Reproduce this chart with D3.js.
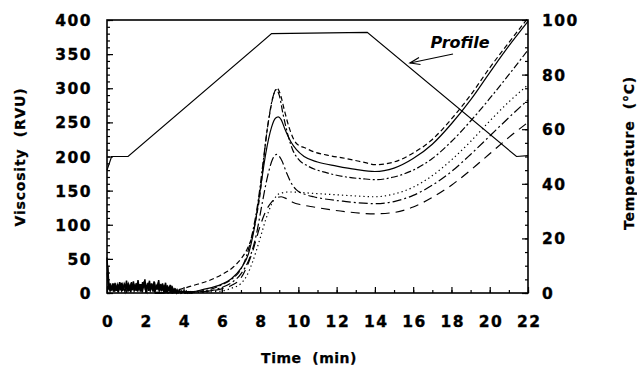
<!DOCTYPE html>
<html><head><meta charset="utf-8">
<script src="https://cdn.jsdelivr.net/npm/d3@7"></script>
<style>
body{margin:0;background:#fff;}
svg{display:block;}
text{font-family:"DejaVu Sans",sans-serif;font-weight:bold;fill:#000;}
</style></head>
<body>
<svg id="c" width="637" height="375"></svg>
<script>
// ---------- data ----------
const leftTicks = [0,50,100,150,200,250,300,350,400];
const rightTicks = [0,20,40,60,80,100];
const timeTicks = [0,2,4,6,8,10,12,14,16,18,20,22];

const profileTime = [0,0.24,1.1,8.6,13.6,21.4,22];
const profileTemp = [45,50,50,95,95.5,50,50.3];

const shortDashT = [2.5,3.6,4.5,5.4,6.0,6.6,7.0,7.3,7.6,7.8,8.0,8.15,8.35,8.5,8.7,8.88,9.05,9.25,9.5,9.9,10.4,10.8,11.5,12.5,13.5,14,15,16,17,18,19,20,21,22];
const shortDashV = [1,4,11,19,27,38,50,63,85,111,145,185,235,262,290,300,292,270,244,219,212,207,202,197,191,188,192,205,225,255,290,330,367,403];

const solidT = [2.5,4.5,5,6,6.5,7,7.4,7.7,8.0,8.3,8.6,8.8,8.95,9.1,9.3,9.6,9.9,10.3,11,12,13,14,15,16,17,18,19,20,21,22];
const solidV = [0,2,5,13,21,36,58,95,150,205,243,256,258,254,240,222,210,200,192,186,181,178,183,197,218,248,283,323,362,398];

const dashDotT = [2.5,5,6,6.5,7,7.3,7.6,7.9,8.15,8.4,8.65,8.85,9.0,9.2,9.45,9.7,10,10.5,11.5,12.5,13.5,14,15,16,17,18,19,20,21,22];
const dashDotV = [0,3,12,20,35,55,88,135,190,245,285,298,290,262,232,210,196,186,176,170,167,166,170,180,197,222,252,285,320,356];

const longDashDotT = [2.5,5,6,6.5,7,7.5,7.8,8.1,8.4,8.65,8.86,9.1,9.4,9.65,9.9,10.4,10.8,12.5,14,15,16,17,18,19,20,21,22];
const longDashDotV = [0,2,8,15,28,55,85,130,172,196,203,196,175,160,151,144,141,134,131,134,143,158,178,203,230,257,283];

const dottedT = [2.5,5,6,6.5,7,7.3,7.6,8,8.3,8.6,8.85,9.04,9.5,10.8,12.5,14,15,16,17,18,19,20,21,22];
const dottedV = [0,1,3,7,14,25,45,80,108,130,142,146,148,146,143,141,145,155,172,195,222,252,280,305];

const longDashT = [2.5,5,6,6.5,7,7.3,7.6,8,8.3,8.6,8.85,9.1,9.4,9.7,10.2,10.8,12.5,14,15,16,17,18,19,20,21,22];
const longDashV = [0,2,6,11,22,38,60,98,120,133,139,141,138,133,129,126,119,116,118,126,140,158,180,204,228,250];

// start-up noise (hand read, RVU), sampled every 0.06 min
const noiseAV = [52,20,8,14,4,11,6,15,3,12,7,16,5,10,4,13,8,18,6,11,3,14,9,17,5,12,4,19,7,13,3,16,8,20,5,12,9,18,4,14,6,17,3,11,8,19,5,13,4,10,7,15,3,9,5,12,2,8,4,6,2,5,1,4,2,3,1,2,1,3,0,2,1,2,0];
const noiseBV = [30,5,12,3,9,14,2,10,6,13,4,9,15,3,8,12,5,14,2,10,7,16,4,9,12,3,15,6,10,2,13,7,17,4,9,11,3,14,6,12,2,16,5,8,13,4,10,3,14,6,9,2,11,4,7,3,8,2,5,3,1,3,1,2,0,2,1,1,0,2,0,1,0,1,0];
const noiseCV = [40,9,3,10,7,2,12,5,9,1,11,6,3,12,7,2,10,4,13,8,1,9,12,3,7,14,2,10,5,11,1,9,13,6,2,15,7,3,10,5,12,1,8,6,11,2,9,4,7,1,12,5,2,6,3,8,1,4,2,5,0,3,1,2,0,1,2,0,1,0,1,0,1,0,0];

// ---------- layout ----------
const svg = d3.select("#c");
const L = 107, R = 528, T = 20, B = 293;
const x = d3.scaleLinear().domain([0,22]).range([L,R]);
const y = d3.scaleLinear().domain([0,400]).range([B,T]);
const yT = d3.scaleLinear().domain([0,100]).range([B,T]);

const line = d3.line().x(d=>x(d[0])).y(d=>y(d[1])).curve(d3.curveMonotoneX);
const lineT = d3.line().x(d=>x(d[0])).y(d=>yT(d[1]));

const series = [
  {t:longDashT, v:longDashV, dash:"9,6"},
  {t:dottedT, v:dottedV, dash:"1.3,3"},
  {t:longDashDotT, v:longDashDotV, dash:"9,3,2,3"},
  {t:dashDotT, v:dashDotV, dash:"7,2.5,2,2.5"},
  {t:solidT, v:solidV, dash:null},
  {t:shortDashT, v:shortDashV, dash:"5,3"}
];

const g = svg.append("g");
// noise
[[noiseAV,0],[noiseBV,0.02],[noiseCV,0.04]].forEach(([vals,off])=>{
  const pts = vals.map((v,i)=>[off + i*0.06, v]);
  g.append("path").attr("d", d3.line().x(d=>x(d[0])).y(d=>y(d[1]))(pts))
    .attr("fill","none").attr("stroke","#000").attr("stroke-width",1.5);
});

series.forEach(s=>{
  g.append("path").attr("d", line(s.t.map((t,i)=>[t,s.v[i]])))
   .attr("fill","none").attr("stroke","#000").attr("stroke-width",1.2)
   .attr("stroke-dasharray", s.dash);
});

// profile
g.append("path").attr("d", lineT(profileTime.map((t,i)=>[t,profileTemp[i]])))
  .attr("fill","none").attr("stroke","#000").attr("stroke-width",1.2);

// frame
svg.append("rect").attr("x",L).attr("y",T).attr("width",R-L).attr("height",B-T)
  .attr("fill","none").attr("stroke","#000").attr("stroke-width",1.6);

const tickFont = g2 => g2.selectAll("text").style("font-size","15.5px").style("letter-spacing","1.5px")
  .attr("stroke","#000").attr("stroke-width",0.35);

// left axis
svg.append("g").attr("transform",`translate(${L},0)`)
  .call(d3.axisLeft(y).tickValues(y.ticks(40)).tickSize(-3).tickFormat("").tickSizeOuter(0))
  .call(a=>a.select(".domain").remove());
svg.append("g").attr("transform",`translate(${L},0)`)
  .call(d3.axisLeft(y).tickValues(leftTicks).tickSize(-6).tickPadding(15).tickSizeOuter(0))
  .call(a=>a.select(".domain").remove()).call(tickFont)
  .call(a=>a.selectAll("text").attr("dy","0.36em"));

// right axis
svg.append("g").attr("transform",`translate(${R},0)`)
  .call(d3.axisRight(yT).tickValues(yT.ticks(20)).tickSize(-3).tickFormat("").tickSizeOuter(0))
  .call(a=>a.select(".domain").remove());
svg.append("g").attr("transform",`translate(${R},0)`)
  .call(d3.axisRight(yT).tickValues(rightTicks).tickSize(-6).tickPadding(14).tickSizeOuter(0))
  .call(a=>a.select(".domain").remove()).call(tickFont)
  .call(a=>a.selectAll("text").attr("dy","0.36em"));

// bottom axis
svg.append("g").attr("transform",`translate(0,${B})`)
  .call(d3.axisBottom(x).tickValues(x.ticks(22)).tickSize(-3).tickFormat("").tickSizeOuter(0))
  .call(a=>a.select(".domain").remove());
svg.append("g").attr("transform",`translate(0,${B})`)
  .call(d3.axisBottom(x).tickValues(timeTicks).tickSize(-6).tickPadding(33.5).tickSizeOuter(0))
  .call(a=>a.select(".domain").remove()).call(tickFont)
  .call(a=>a.selectAll("text").attr("dy","0").attr("dx","0.75px"));

svg.selectAll(".tick line").attr("stroke","#000").attr("stroke-width",1.2);

// titles
const title = s => s.style("font-size","14px").style("letter-spacing","0.8px")
  .attr("stroke","#000").attr("stroke-width",0.25);
svg.append("text").attr("transform","translate(25,157) rotate(-90)")
  .attr("text-anchor","middle").call(title).text("Viscosity\u00a0\u00a0(RVU)");
svg.append("text").attr("transform","translate(634,153) rotate(-90)")
  .attr("text-anchor","middle").call(title).text("Temperature\u00a0\u00a0(\u00b0C)");
svg.append("text").attr("x",309).attr("y",363)
  .attr("text-anchor","middle").call(title).style("letter-spacing","0.5px").text("Time\u00a0\u00a0(min)");

// Profile annotation
svg.append("text").attr("x",460).attr("y",48).attr("text-anchor","middle")
  .style("font-size","16px").style("font-style","italic").text("Profile");
svg.append("line").attr("x1",453).attr("y1",54).attr("x2",410).attr("y2",63)
  .attr("stroke","#000").attr("stroke-width",1.2);
svg.append("path").attr("d","M419,57.5 L410,63 L420.5,64.5")
  .attr("fill","none").attr("stroke","#000").attr("stroke-width",1.2);
</script>
</body></html>
